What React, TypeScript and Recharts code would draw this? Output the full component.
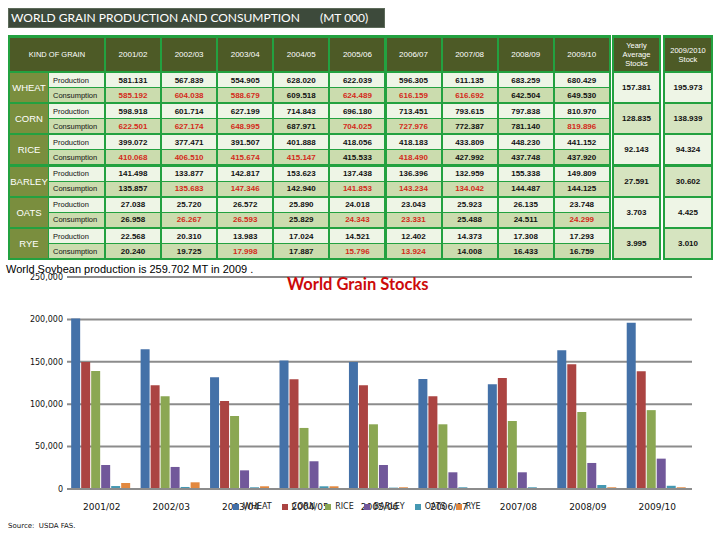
import React from 'react';
import { BarChart, Bar, XAxis, YAxis, CartesianGrid, Legend } from 'recharts';

// ---------- DATA ----------
const years = ['2001/02', '2002/03', '2003/04', '2004/05', '2005/06', '2006/07', '2007/08', '2008/09', '2009/10'];
const grains = ['WHEAT', 'CORN', 'RICE', 'BARLEY', 'OATS', 'RYE'];
const rowLabels = ['Production', 'Consumption'];

const wheatProduction = ['581.131', '567.839', '554.905', '628.020', '622.039', '596.305', '611.135', '683.259', '680.429'];
const wheatConsumption = ['585.192', '604.038', '588.679', '609.518', '624.489', '616.159', '616.692', '642.504', '649.530'];
const wheatConsumptionRed = [1, 1, 1, 0, 1, 1, 1, 0, 0];

const cornProduction = ['598.918', '601.714', '627.199', '714.843', '696.180', '713.451', '793.615', '797.838', '810.970'];
const cornConsumption = ['622.501', '627.174', '648.995', '687.971', '704.025', '727.976', '772.387', '781.140', '819.896'];
const cornConsumptionRed = [1, 1, 1, 0, 1, 1, 0, 0, 1];

const riceProduction = ['399.072', '377.471', '391.507', '401.888', '418.056', '418.183', '433.809', '448.230', '441.152'];
const riceConsumption = ['410.068', '406.510', '415.674', '415.147', '415.533', '418.490', '427.992', '437.748', '437.920'];
const riceConsumptionRed = [1, 1, 1, 1, 0, 1, 0, 0, 0];

const barleyProduction = ['141.498', '133.877', '142.817', '153.623', '137.438', '136.396', '132.959', '155.338', '149.809'];
const barleyConsumption = ['135.857', '135.683', '147.346', '142.940', '141.853', '143.234', '134.042', '144.487', '144.125'];
const barleyConsumptionRed = [0, 1, 1, 0, 1, 1, 1, 0, 0];

const oatsProduction = ['27.038', '25.720', '26.572', '25.890', '24.018', '23.043', '25.923', '26.135', '23.748'];
const oatsConsumption = ['26.958', '26.267', '26.593', '25.829', '24.343', '23.331', '25.488', '24.511', '24.299'];
const oatsConsumptionRed = [0, 1, 1, 0, 1, 1, 0, 0, 1];

const ryeProduction = ['22.568', '20.310', '13.983', '17.024', '14.521', '12.402', '14.373', '17.308', '17.293'];
const ryeConsumption = ['20.240', '19.725', '17.998', '17.887', '15.796', '13.924', '14.008', '16.433', '16.759'];
const ryeConsumptionRed = [0, 0, 1, 0, 1, 1, 0, 0, 0];

const yearlyAverageStocks = ['157.381', '128.835', '92.143', '27.591', '3.703', '3.995'];
const stock2009 = ['195.973', '138.939', '94.324', '30.602', '4.425', '3.010'];

// stocks chart
const wheatStocks = [201000, 164700, 131700, 151400, 149800, 129700, 123500, 163600, 195973];
const cornStocks = [149800, 122300, 103800, 129400, 122300, 109300, 130900, 147000, 138939];
const riceStocks = [139200, 109300, 86100, 72000, 76300, 76300, 80200, 90800, 93000];
const barleyStocks = [28300, 26000, 22000, 32700, 28300, 19700, 19700, 30700, 35800];
const oatsStocks = [3500, 2400, 2000, 3200, 1600, 2000, 2000, 4700, 3800];
const ryeStocks = [7100, 7900, 3200, 3200, 2000, 400, 400, 2000, 2000];
const yTicks = [0, 50000, 100000, 150000, 200000, 250000];

const tableTitle = 'WORLD GRAIN PRODUCTION AND CONSUMPTION';
const tableUnit = '(MT 000)';
const kindHeader = 'KIND OF GRAIN';
const yearlyHeader = ['Yearly', 'Average', 'Stocks'];
const stockHeader = ['2009/2010', 'Stock'];
const chartTitle = 'World Grain Stocks';
const soybeanNote = 'World Soybean production is 259.702 MT in 2009 .';
const sourceNote = 'Source:  USDA FAS.';

const production = [wheatProduction, cornProduction, riceProduction, barleyProduction, oatsProduction, ryeProduction];
const consumption = [wheatConsumption, cornConsumption, riceConsumption, barleyConsumption, oatsConsumption, ryeConsumption];
const consumptionRed = [wheatConsumptionRed, cornConsumptionRed, riceConsumptionRed, barleyConsumptionRed, oatsConsumptionRed, ryeConsumptionRed];

const chartData = years.map((y, i) => ({
  year: y,
  wheat: wheatStocks[i],
  corn: cornStocks[i],
  rice: riceStocks[i],
  barley: barleyStocks[i],
  oats: oatsStocks[i],
  rye: ryeStocks[i],
}));

// ---------- STYLES ----------
const GREEN = '#23a140';
const HEAD = '#4d5a26';
const GRAIN_BG = '#7a8e3e';
const LIGHT = '#eef5e6';
const DARK = '#cbdcae';
const RED = '#d42a1a';
const FONT = '"Liberation Sans", Arial, sans-serif';

const cell = (left: number, top: number, width: number, height: number, bg: string): React.CSSProperties => ({
  position: 'absolute', left, top, width, height, background: bg,
  display: 'flex', alignItems: 'center', justifyContent: 'center',
  fontFamily: FONT, boxSizing: 'border-box', overflow: 'hidden', whiteSpace: 'nowrap',
});

const colX = (i: number) => 106 + i * 56.1;
const blockTop = (g: number) => 73 + g * 31.2;

function Table() {
  const items: React.ReactNode[] = [];
  items.push(<div key="frame" style={{ position: 'absolute', left: 8, top: 35, width: 603, height: 225, background: GREEN }} />);
  items.push(
    <div key="kind" style={{ ...cell(10, 38, 94, 33, HEAD), color: '#fff', fontSize: 7.5 }}>{kindHeader}</div>
  );
  years.forEach((y, i) => {
    items.push(<div key={'h' + i} style={{ ...cell(colX(i), 38, 54, 33, HEAD), color: '#fff', fontSize: 8 }}>{y}</div>);
  });
  grains.forEach((g, gi) => {
    const t = blockTop(gi);
    items.push(
      <div key={'g' + gi} style={{ ...cell(10, t, 38, 29, GRAIN_BG), color: '#fff', fontSize: 9.5 }}>{g}</div>
    );
    rowLabels.forEach((lab, ri) => {
      const bg = ri === 0 ? LIGHT : DARK;
      const top = t + ri * 15;
      items.push(
        <div key={'l' + gi + ri} style={{ ...cell(49, top, 55, 14, bg), justifyContent: 'flex-start', paddingLeft: 4, fontSize: 7.5, color: '#111' }}>{lab}</div>
      );
      const vals = ri === 0 ? production[gi] : consumption[gi];
      vals.forEach((v, i) => {
        const red = ri === 1 && consumptionRed[gi][i] === 1;
        items.push(
          <div key={'v' + gi + ri + i} style={{ ...cell(colX(i), top, 54, 14, bg), fontSize: 8, fontWeight: 'bold', color: red ? RED : '#111' }}>{v}</div>
        );
      });
    });
  });
  const side = [
    { left: 612, width: 49, header: yearlyHeader, vals: yearlyAverageStocks },
    { left: 663, width: 50, header: stockHeader, vals: stock2009 },
  ];
  side.forEach((s, si) => {
    items.push(<div key={'sf' + si} style={{ position: 'absolute', left: s.left, top: 35, width: s.width, height: 225, background: GREEN }} />);
    items.push(
      <div key={'sh' + si} style={{ ...cell(s.left + 2, 38, s.width - 4, 33, HEAD), flexDirection: 'column', color: '#fff', fontSize: 7.5, lineHeight: '9px' }}>
        {s.header.map((h, k) => <span key={k}>{h}</span>)}
      </div>
    );
    s.vals.forEach((v, gi) => {
      items.push(
        <div key={'sv' + si + gi} style={{ ...cell(s.left + 2, blockTop(gi), s.width - 4, 29, gi % 2 === 0 ? LIGHT : '#d6e4c0'), fontSize: 8, fontWeight: 'bold', color: '#111' }}>{v}</div>
      );
    });
  });
  return <>{items}</>;
}

const legendOrder = (item: any) => grains.indexOf(String(item.value));

export default function App() {
  return (
    <div style={{ position: 'absolute', left: 0, top: 0, width: 720, height: 540, background: '#fff', overflow: 'hidden' }}>
      <div style={{ position: 'absolute', left: 8, top: 8, width: 377, height: 20, background: '#3d4a3b', border: '1px solid #5d6b5a', boxSizing: 'border-box', color: '#fff', fontFamily: 'Lato, sans-serif', fontSize: 12, lineHeight: '18px', whiteSpace: 'nowrap' }}>
        <span style={{ position: 'absolute', left: 2 }}>{tableTitle}</span>
        <span style={{ position: 'absolute', left: 311 }}>{tableUnit}</span>
      </div>
      <Table />
      <div style={{ position: 'absolute', left: 0, top: 260, width: 720, height: 280 }}>
        <BarChart width={720} height={280} data={chartData} margin={{ top: 17, right: 28, left: 7, bottom: 21 }} barCategoryGap="6%" barGap={1}>
          <CartesianGrid vertical={false} stroke="#8c8c8c" strokeWidth={2} />
          <XAxis dataKey="year" height={30} tickLine={false} tickSize={6} tickMargin={9} axisLine={{ stroke: '#8c8c8c', strokeWidth: 2 }}
            tick={{ fontSize: 9, fill: '#111', fontFamily: '"DejaVu Sans", sans-serif' }} interval={0} />
          <YAxis width={60} domain={[0, 250000]} ticks={yTicks} tickLine={false} tickSize={0} tickMargin={4} axisLine={false}
            tickFormatter={(v: number) => v.toLocaleString('en-US')}
            tick={{ fontSize: 8, fill: '#111', fontFamily: '"DejaVu Sans", sans-serif' }} />
          <Legend layout="horizontal" verticalAlign="middle" align="center" iconType="square" iconSize={6}
            itemSorter={legendOrder}
            wrapperStyle={{ top: 242, left: 233, width: 'auto', lineHeight: '10px', fontSize: 8, fontFamily: '"DejaVu Sans", sans-serif' }}
            formatter={(value: string) => <span style={{ color: '#222' }}>{value}</span>} />
          <Bar dataKey="wheat" name="WHEAT" fill="#4471a8" isAnimationActive={false} />
          <Bar dataKey="corn" name="CORN" fill="#ab4442" isAnimationActive={false} />
          <Bar dataKey="rice" name="RICE" fill="#8ba753" isAnimationActive={false} />
          <Bar dataKey="barley" name="BARLEY" fill="#71589a" isAnimationActive={false} />
          <Bar dataKey="oats" name="OATS" fill="#4598b2" isAnimationActive={false} />
          <Bar dataKey="rye" name="RYE" fill="#e2883f" isAnimationActive={false} />
        </BarChart>
      </div>
      <div style={{ position: 'absolute', left: 287, top: 274, color: '#cc0a0a', fontFamily: 'Lato, sans-serif', fontWeight: 'bold', fontSize: 16.5, whiteSpace: 'nowrap' }}>{chartTitle}</div>
      <div style={{ position: 'absolute', left: 6, top: 263, fontFamily: FONT, fontSize: 11, color: '#000', whiteSpace: 'nowrap' }}>{soybeanNote}</div>
      <div style={{ position: 'absolute', left: 8, top: 522, fontFamily: '"DejaVu Sans", sans-serif', fontSize: 7, color: '#111', whiteSpace: 'pre' }}>{sourceNote}</div>
    </div>
  );
}
